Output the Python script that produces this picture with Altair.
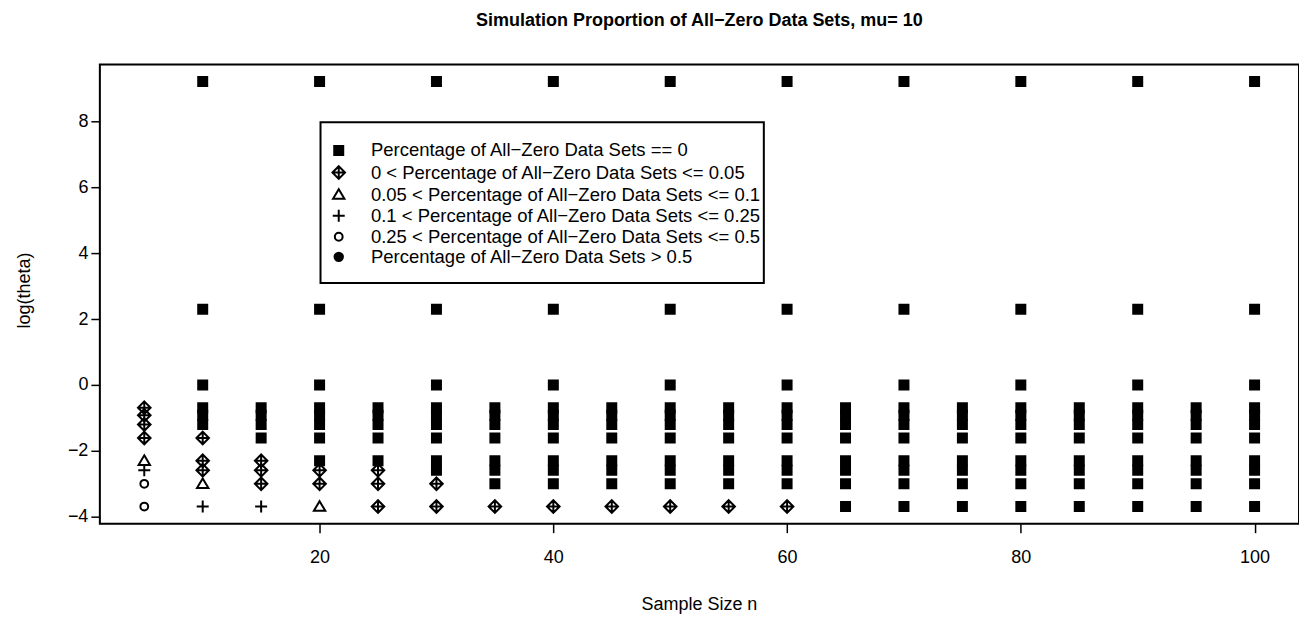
import altair as alt
import pandas as pd

# log(theta) levels
log_theta = [9.21, 2.30, 0.00, -0.69, -0.92, -1.20, -1.61, -2.30, -2.59, -3.00, -3.69]

# sample sizes
sample_sizes = [5, 10, 15, 20, 25, 30, 35, 40, 45, 50, 55, 60, 65, 70, 75, 80, 85, 90, 95, 100]

# category code per level for each sample size ('-' = no point)
# S: ==0, D: 0<p<=0.05, T: 0.05<p<=0.1, P: 0.1<p<=0.25, C: 0.25<p<=0.5, F: >0.5
codes = [
    "---DDDDTPCC",
    "SSSSSSDDDTP",
    "---SSSSDDDP",
    "SSSSSSSSDDT",
    "---SSSSSDDD",
    "SSSSSSSSSDD",
    "---SSSSSSSD",
    "SSSSSSSSSSD",
    "---SSSSSSSD",
    "SSSSSSSSSSD",
    "---SSSSSSSD",
    "SSSSSSSSSSD",
    "---SSSSSSSS",
    "SSSSSSSSSSS",
    "---SSSSSSSS",
    "SSSSSSSSSSS",
    "---SSSSSSSS",
    "SSSSSSSSSSS",
    "---SSSSSSSS",
    "SSSSSSSSSSS",
]

cat_codes = ["S", "D", "T", "P", "C", "F"]
cat_labels = [
    "Percentage of All\u2212Zero Data Sets == 0",
    "0 < Percentage of All\u2212Zero Data Sets <= 0.05",
    "0.05 < Percentage of All\u2212Zero Data Sets <= 0.1",
    "0.1 < Percentage of All\u2212Zero Data Sets <= 0.25",
    "0.25 < Percentage of All\u2212Zero Data Sets <= 0.5",
    "Percentage of All\u2212Zero Data Sets > 0.5",
]

shapes = [
    "M-0.75,-0.75L0.75,-0.75L0.75,0.75L-0.75,0.75Z",
    "M0,-1.05L1.05,0L0,1.05L-1.05,0Z M0,-1.05L0,1.05 M-1.05,0L1.05,0",
    "M0,-0.9L0.95,0.7L-0.95,0.7Z",
    "M-1,0L1,0 M0,-1L0,1",
    "M-0.65,0A0.65,0.65,0,1,1,0.65,0A0.65,0.65,0,1,1,-0.65,0Z",
    "M-0.7,0A0.7,0.7,0,1,1,0.7,0A0.7,0.7,0,1,1,-0.7,0Z",
]
fills = ["black", "transparent", "transparent", "transparent", "transparent", "black"]
strokes = ["black"] * 6

rows = []
for n, code in zip(sample_sizes, codes):
    for lv, c in zip(log_theta, code):
        if c == "-":
            continue
        rows.append({"n": n, "y": lv, "cat": cat_labels[cat_codes.index(c)]})
df = pd.DataFrame(rows)

font = "Liberation Sans"
W, H = 1201, 460

legend = alt.Legend(
    title=None,
    orient="none",
    legendX=230,
    legendY=77,
    padding=0,
    labelFont=font,
    labelFontSize=18.5,
    labelColor="black",
    labelLimit=0,
    labelBaseline="middle",
    symbolSize=144,
    symbolStrokeWidth=2,
    rowPadding=1.1,
    labelOffset=23,
)

one = alt.Data(values=[{"k": 1}])

frame = alt.Chart(one).mark_rect(fill="transparent", stroke="black", strokeWidth=2).encode(
    x=alt.value(0), x2=alt.value(W), y=alt.value(0), y2=alt.value(H)
)

legend_box = alt.Chart(one).mark_rect(fill="white", stroke="black", strokeWidth=2).encode(
    x=alt.value(221), x2=alt.value(665), y=alt.value(58), y2=alt.value(219)
)

points = (
    alt.Chart(df)
    .mark_point(size=144, strokeWidth=2, opacity=1)
    .encode(
        x=alt.X(
            "n:Q",
            scale=alt.Scale(domain=[1.2, 103.8], nice=False, zero=False),
            axis=alt.Axis(
                values=[20, 40, 60, 80, 100],
                title="Sample Size n",
                titleX=600,
                titleY=81,
                titleBaseline="middle",
                titleFont=font,
                titleFontSize=18,
                titleFontWeight="normal",
                titleColor="black",
                labelFont=font,
                labelFontSize=18,
                labelColor="black",
                labelBaseline="middle",
                labelPadding=25,
                tickSize=9,
                tickColor="black",
                tickWidth=1.5,
                domain=False,
                grid=False,
            ),
        ),
        y=alt.Y(
            "y:Q",
            scale=alt.Scale(domain=[-4.21, 9.73], nice=False, zero=False),
            axis=alt.Axis(
                values=[-4, -2, 0, 2, 4, 6, 8],
                title="log(theta)",
                titleX=-75,
                titleY=226,
                titleAngle=-90,
                titleBaseline="middle",
                titleAlign="center",
                titleFont=font,
                titleFontSize=18,
                titleFontWeight="normal",
                titleColor="black",
                labelFont=font,
                labelFontSize=18,
                labelColor="black",
                labelPadding=3,
                labelBaseline="middle",
                tickSize=9,
                tickColor="black",
                tickWidth=1.5,
                domain=False,
                grid=False,
            ),
        ),
        shape=alt.Shape("cat:N", scale=alt.Scale(domain=cat_labels, range=shapes), legend=legend),
        fill=alt.Fill("cat:N", scale=alt.Scale(domain=cat_labels, range=fills), legend=legend),
        stroke=alt.Stroke("cat:N", scale=alt.Scale(domain=cat_labels, range=strokes), legend=legend),
    )
)

chart = (
    alt.layer(frame, points, legend_box)
    .properties(
        width=W,
        height=H,
        autosize=alt.AutoSizeParams(type="none"),
        padding={"left": 92, "top": 56, "right": 0, "bottom": 90},
        title=alt.TitleParams(
            "Simulation Proportion of All\u2212Zero Data Sets, mu= 10",
            font=font,
            fontSize=18,
            fontWeight="bold",
            color="black",
            anchor="middle",
            offset=33,
        ),
    )
    .configure_view(stroke=None)
    .configure(background="white")
)

chart.save("out.html", embed_options={"renderer": "svg", "actions": False})
